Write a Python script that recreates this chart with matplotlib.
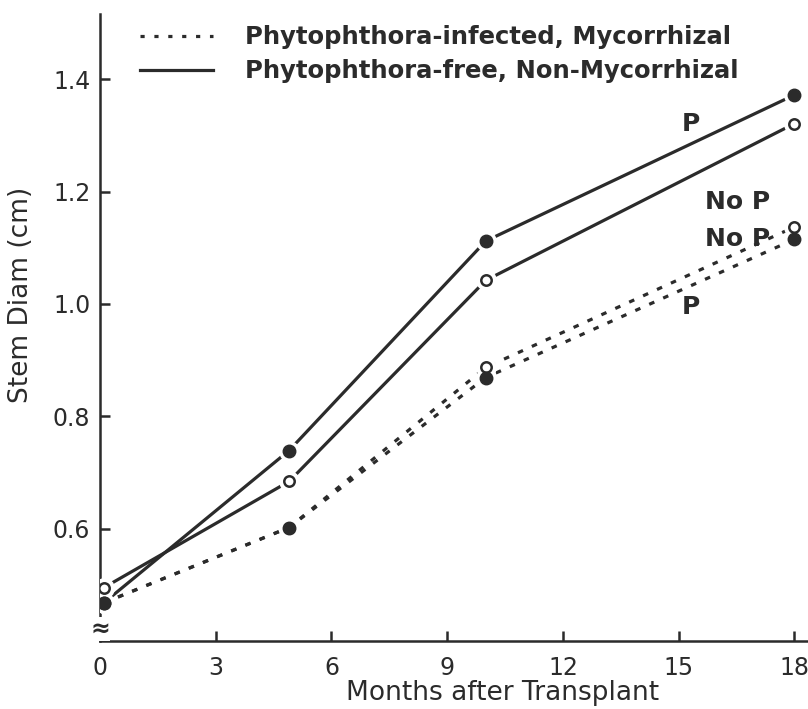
import numpy as np
import matplotlib.pyplot as plt

# Stem diameter (cm) vs months after transplant
months = [0.1, 4.9, 10.0, 18.0]

free_p = [0.468, 0.739, 1.112, 1.372]      # Phytophthora-free, P added
free_nop = [0.495, 0.684, 1.042, 1.321]    # Phytophthora-free, no P
inf_nop = [0.468, 0.602, 0.887, 1.137]     # Phytophthora-infected, no P
inf_p = [0.468, 0.602, 0.869, 1.115]       # Phytophthora-infected, P added

xticks = [0, 3, 6, 9, 12, 15, 18]
yticks = [0.6, 0.8, 1.0, 1.2, 1.4]

legend_labels = ["Phytophthora-infected, Mycorrhizal",
                 "Phytophthora-free, Non-Mycorrhizal"]

# curve labels: (text, month, diameter)
curve_labels = [("P", 15.09, 1.32),
                ("No P", 15.69, 1.181),
                ("No P", 15.69, 1.115),
                ("P", 15.07, 0.994)]

plt.rcParams["lines.scale_dashes"] = False
ink = "#2b2b2b"
dash = (0, (4.0, 7.0))

fig = plt.figure(figsize=(8.08, 7.09), dpi=100)
ax = fig.add_axes([100 / 808, 1 - 641 / 709, 708 / 808, 627 / 709])

lw = 2.3
ax.plot(months, free_p, color=ink, lw=lw, zorder=2)
ax.plot(months, free_nop, color=ink, lw=lw, zorder=2)
ax.plot(months, inf_nop, color=ink, lw=lw, ls=dash, zorder=2)
ax.plot(months, inf_p, color=ink, lw=lw, ls=dash, zorder=2)

# white halo so lines stop short of the markers
for ys in (free_p, free_nop, inf_nop, inf_p):
    ax.plot(months, ys, ls="none", marker="o", ms=14, mfc="white",
            mec="white", zorder=3)

ax.plot(months, free_nop, ls="none", marker="o", ms=7.5, mfc="white",
        mec=ink, mew=1.8, zorder=4)
ax.plot(months, inf_nop, ls="none", marker="o", ms=7.5, mfc="white",
        mec=ink, mew=1.8, zorder=4)
ax.plot(months, free_p, ls="none", marker="o", ms=9, mfc=ink, mec=ink, zorder=5)
ax.plot(months, inf_p, ls="none", marker="o", ms=9, mfc=ink, mec=ink, zorder=5)

for txt, x, y in curve_labels:
    ax.text(x, y, txt, fontsize=18, fontweight="semibold", color=ink,
            ha="left", va="center")

# legend handles only (no markers)
h1, = ax.plot([], [], color=ink, lw=lw, ls=(0, (3.0, 7.0)))
h2, = ax.plot([], [], color=ink, lw=lw)
ax.legend([h1, h2], legend_labels, loc="upper left",
          bbox_to_anchor=(0.057, 0.982), frameon=False,
          prop={"size": 17.5, "weight": "bold"},
          handlelength=3.0, handletextpad=1.3, labelspacing=0.42,
          borderpad=0, borderaxespad=0, labelcolor=ink)

ax.set_xlim(0, 18.35)
ax.set_ylim(0.4, 1.516)
ax.set_xticks(xticks)
ax.set_xticklabels([str(t) for t in xticks])
ax.set_yticks(yticks)
ax.set_yticklabels([f"{t:.1f}" for t in yticks])

for side in ("top", "right"):
    ax.spines[side].set_visible(False)
for side in ("left", "bottom"):
    ax.spines[side].set_linewidth(1.8)
    ax.spines[side].set_color(ink)

ax.tick_params(axis="both", direction="in", length=7, width=1.8,
               colors=ink, labelsize=17)
ax.tick_params(axis="x", pad=11)
ax.tick_params(axis="y", pad=7)

# axis break mark near the origin
ax.text(0, 0.422, "≈", fontsize=17, fontweight="bold", color=ink,
        ha="center", va="center", zorder=6,
        bbox=dict(boxstyle="square,pad=0.0", fc="white", ec="none"))

ax.set_xlabel("Months after Transplant", fontsize=19, color=ink)
ax.xaxis.set_label_coords(0.568, -0.062)
ax.set_ylabel("Stem Diam (cm)", fontsize=19, color=ink)
ax.yaxis.set_label_coords(-0.093, 0.552)

fig.savefig("out.png", dpi=100)
